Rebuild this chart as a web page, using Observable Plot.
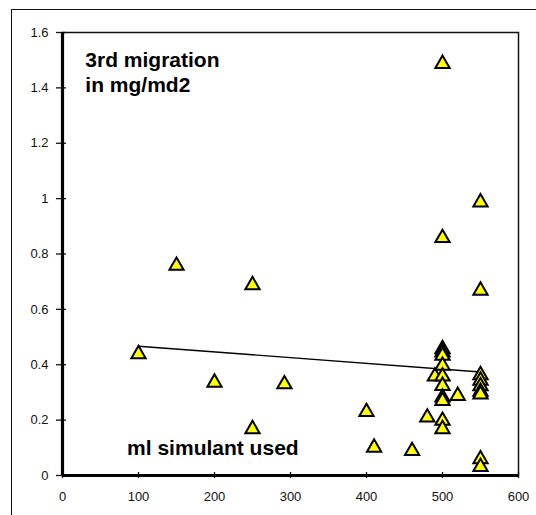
<!DOCTYPE html>
<html>
<head>
<meta charset="utf-8">
<script src="https://cdn.jsdelivr.net/npm/d3@7"></script>
<script src="https://cdn.jsdelivr.net/npm/@observablehq/plot@0.6"></script>
<style>
  html, body { margin: 0; padding: 0; background: #fff; overflow: hidden; }
  #wrap { position: relative; width: 536px; height: 515px; overflow: hidden; }
  #border {
    position: absolute; left: 11px; top: 9px; width: 560px; height: 560px;
    border: 1.5px solid #111; box-sizing: border-box;
  }
  #chart { position: absolute; left: 0; top: 0; }
</style>
</head>
<body>
<div id="wrap"><div id="border"></div><div id="chart"></div></div>
<script>
// ml of simulant used (x) and 3rd migration in mg/dm2 (y)
const simulantMl = [
  100, 150, 200, 250, 250, 292, 400, 410, 460, 480, 490,
  500, 500, 500, 500, 500, 500, 500, 500, 500, 500, 500, 500,
  520,
  550, 550, 550, 550, 550, 550, 550, 550, 550
];
const migration = [
  0.446, 0.765, 0.343, 0.695, 0.175, 0.337, 0.237, 0.108, 0.096, 0.217, 0.365,
  1.494, 0.865, 0.464, 0.452, 0.440, 0.404, 0.365, 0.331, 0.289, 0.277, 0.205, 0.175,
  0.295,
  0.994, 0.675, 0.370, 0.350, 0.330, 0.310, 0.300, 0.066, 0.038
];

// linear trend line endpoints
const trendX = [100, 550];
const trendY = [0.467, 0.374];

// axis ticks and their labels
const xTicks = [0, 100, 200, 300, 400, 500, 600];
const xTickLabels = ["0", "100", "200", "300", "400", "500", "600"];
const yTicks = [0, 0.2, 0.4, 0.6, 0.8, 1.0, 1.2, 1.4, 1.6];
const yTickLabels = ["0", "0.2", "0.4", "0.6", "0.8", "1", "1.2", "1.4", "1.6"];

const points = simulantMl.map((x, i) => ({x, y: migration[i]}));
const trend = trendX.map((x, i) => ({x, y: trendY[i]}));
const fmt = (ticks, labels) => (d) => labels[ticks.findIndex((t) => Math.abs(t - d) < 1e-9)];

const chart = Plot.plot({
  width: 536,
  height: 515,
  marginLeft: 62,
  marginRight: 18,
  marginTop: 32,
  marginBottom: 40,
  style: {fontFamily: "'Liberation Sans', Arial, sans-serif", fontSize: "13px", color: "#111", background: "transparent"},
  x: {domain: [0, 600], axis: null},
  y: {domain: [0, 1.6], axis: null},
  marks: [
    Plot.frame({stroke: "#111", strokeWidth: 1.5}),
    // tick marks crossing the axes
    Plot.axisY({ticks: yTicks, label: null, tickSize: 10, dx: 4, tickFormat: () => "", stroke: "#111", strokeWidth: 1.3}),
    Plot.axisX({ticks: xTicks, label: null, tickSize: 6, dy: -3, tickFormat: () => "", stroke: "#111", strokeWidth: 1.3}),
    // tick labels
    Plot.axisY({ticks: yTicks, label: null, tickSize: 0, tickPadding: 14, tickFormat: fmt(yTicks, yTickLabels), fontSize: 13, fill: "#111"}),
    Plot.axisX({ticks: xTicks, label: null, tickSize: 0, tickPadding: 16, tickFormat: fmt(xTicks, xTickLabels), fontSize: 13, fill: "#111"}),
    // heavy left and bottom axis lines
    Plot.ruleX([0], {stroke: "#000", strokeWidth: 3.2}),
    Plot.ruleY([0], {stroke: "#000", strokeWidth: 3.2}),
    Plot.line(trend, {x: "x", y: "y", stroke: "#000", strokeWidth: 1.4}),
    Plot.dot(points, {x: "x", y: "y", symbol: "triangle", r: 5.3, dy: 2, fill: "#ffff00", stroke: "#000", strokeWidth: 2}),
    Plot.text(["3rd migration\nin mg/md2"], {x: 30, y: 1.54, text: (d) => d, textAnchor: "start", lineAnchor: "top", lineHeight: 1.2, fontSize: 21, fontWeight: "bold", fill: "#000"}),
    Plot.text(["ml simulant used"], {x: 85, y: 0.1, text: (d) => d, textAnchor: "start", lineAnchor: "middle", fontSize: 21, fontWeight: "bold", fill: "#000"})
  ]
});
document.getElementById("chart").appendChild(chart);
</script>
</body>
</html>
